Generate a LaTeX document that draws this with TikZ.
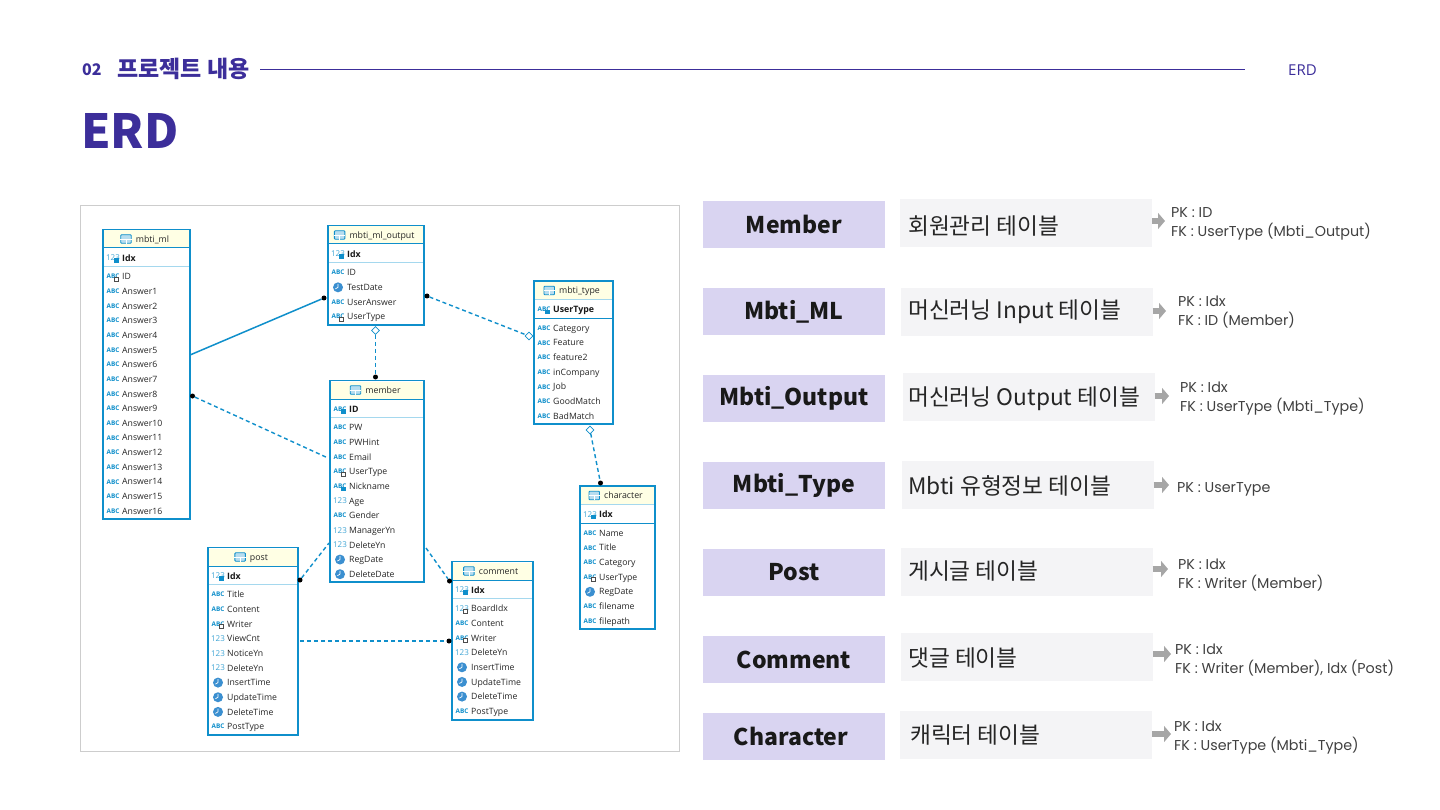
\documentclass[tikz,border=0pt]{standalone}
\usepackage{fontspec}
\setmainfont{Open Sans}
\newfontfamily\krfont{Noto Sans CJK KR}
\newfontfamily\keyfont{Poppins}
\usetikzlibrary{positioning,shapes.geometric,arrows.meta}
\definecolor{titlepurple}{HTML}{3C2E9A}
\definecolor{labelpurple}{HTML}{D9D4F1}
\definecolor{descgrey}{HTML}{F4F4F6}
\definecolor{erdblue}{HTML}{0F8FCB}
\definecolor{erdlight}{HTML}{A5D8EE}
\definecolor{erdyellow}{HTML}{FFFFE4}
\definecolor{panelgrey}{HTML}{CDCDCD}
\definecolor{clockblue}{HTML}{3B8FD0}
\tikzset{
  erdbox/.style={draw=erdblue,line width=1.7pt,fill=white,inner sep=0pt,outer sep=0pt,anchor=north west},
  erdtitle/.style={font=\fontsize{8.8}{10}\selectfont,text=black!85,inner sep=0pt,text height=6.2pt,text depth=0pt},
  erdkey/.style={font=\bfseries\fontsize{8.8}{10}\selectfont,text=black!90,inner sep=0pt,anchor=west,text height=6.2pt,text depth=0pt},
  erdcol/.style={font=\fontsize{8.7}{10}\selectfont,text=black!85,inner sep=0pt,anchor=west,text height=6.2pt,text depth=0pt},
  erdabc/.style={font=\bfseries\fontsize{6.4}{7}\selectfont,text=erdblue,inner sep=0pt},
  erdnum/.style={font=\fontsize{8}{9}\selectfont,text=erdblue!80,inner sep=0pt},
  erdclock/.style={circle,fill=clockblue,inner sep=0pt,minimum size=10pt},
  erdmark/.style={draw=black!70,fill=white,line width=.5pt,inner sep=0pt,minimum size=4pt},
  erdpk/.style={fill=erdblue,inner sep=0pt,minimum size=4.5pt},
  tableicon/.style={draw=erdblue,fill=erdblue!30,line width=.9pt,rounded corners=.8pt,inner sep=0pt,minimum width=10.5pt,minimum height=8.5pt},
  dot/.style={circle,fill=black,inner sep=0pt,minimum size=5pt},
  opt/.style={diamond,draw=erdblue,fill=white,line width=.6pt,inner sep=0pt,minimum size=8pt},
  solidrel/.style={draw=erdblue,line width=1.5pt},
  dashrel/.style={draw=erdblue,line width=1.4pt,dash pattern=on 4pt off 3pt},
  labelbox/.style={fill=labelpurple,minimum width=182pt,minimum height=47pt,inner sep=0pt,
    font=\krfont\bfseries\fontsize{23}{28}\selectfont,text=black!90},
  descbox/.style={fill=descgrey,minimum width=252pt,minimum height=48pt,inner sep=0pt},
  desctext/.style={font=\krfont\fontsize{22.7}{28}\selectfont,text=black!85,inner sep=0pt,anchor=west},
  keytext/.style={font=\keyfont\fontsize{14.3}{19}\selectfont,text=black!75,inner sep=0pt,anchor=west,align=left},
  keyarrow/.style={draw=black!35,line width=6pt,-{Triangle[length=7pt,width=16pt]}},
  headtext/.style={text=titlepurple,inner sep=0pt,anchor=west}
}
% icons: name, position
\newcommand\erdiconA[2]{\node[erdabc] (#1) at #2 {ABC};}
\newcommand\erdiconN[2]{\node[erdnum] (#1) at #2 {123};}
\newcommand\erdiconF[2]{\node[erdabc] (#1) at #2 {ABC};
  \node[erdmark] (#1m) at ([xshift=3.5pt,yshift=-2.5pt]#1.center) {};}
\newcommand\erdiconK[2]{\node[erdabc] (#1) at #2 {ABC};
  \node[erdpk] (#1m) at ([xshift=3.5pt,yshift=-2.5pt]#1.center) {};}
\newcommand\erdiconM[2]{\node[erdnum] (#1) at #2 {123};
  \node[erdmark] (#1m) at ([xshift=3.5pt,yshift=-2.5pt]#1.center) {};}
\newcommand\erdiconL[2]{\node[erdnum] (#1) at #2 {123};
  \node[erdpk] (#1m) at ([xshift=3.5pt,yshift=-2.5pt]#1.center) {};}
\newcommand\erdiconC[2]{\node[erdclock] (#1) at #2 {};
  \draw[white,line width=.7pt] (#1.center) -- ++(0,-3.4) (#1.center) -- ++(-2.6,1.5);}
% name, left, right, top, bottom, title, key, key icon, columns
\newcommand\erdtable[9]{
  \node[erdbox,minimum width=#3-#2,minimum height=#5-#4] (#1) at (#2,#4) {};
  \fill[erdyellow] (#2+1,#4+1) rectangle (#3-1,#4+18);
  \node[erdtitle] (#1t) at ({(#2+#3)/2+6},#4+9.5) {#6};
  \node[tableicon,left=4pt of #1t] (#1i) {};
  \draw[white,line width=.6pt] (#1i.west) -- (#1i.east) (#1i.center) -- (#1i.south);
  \draw[erdtopline] (#2+1,#4+18.5) -- (#3-1,#4+18.5);
  \draw[erdkeyline] (#2+1,#4+37) -- (#3-1,#4+37);
  \csname erdicon#8\endcsname{#1k}{(#2+10,#4+28.5)}
  \node[erdkey] (#1kt) at (#2+19,#4+28.5) {#7};
  \foreach \ic/\col [count=\k from 0] in {#9} {
    \csname erdicon\ic\endcsname{#1i\k}{(#2+10,#4+47.2+\k*14.65)}
    \node[erdcol] (#1c\k) at (#2+19,#4+47.2+\k*14.65) {\col};
  }
}
\begin{document}
\begin{tikzpicture}[x=1pt,y=-1pt]
  \useasboundingbox (0,0) rectangle (1440,810);
  % heading
  \node[headtext,font=\krfont\bfseries\fontsize{16}{18}\selectfont] (num) at (82,69.5) {02};
  \node[headtext,font=\krfont\bfseries\fontsize{23}{28}\selectfont] (section) at (117,68.5) {프로젝트 내용};
  \node[headtext,font=\fontsize{15}{18}\selectfont] (sub) at (1288,70) {ERD};
  \draw[titlepurple,line width=1.8pt] (260,69.5) -- (1245,69.5);
  \node[headtext,font=\krfont\bfseries\fontsize{47}{52}\selectfont] (erd) at (81,131) {ERD};
  % screenshot panel
  \node[draw=panelgrey,line width=1.4pt,fill=white,inner sep=0pt,outer sep=0pt,anchor=north west,minimum width=599pt,minimum height=546pt] (panel) at (80.5,205.5) {};
  % tables
  \tikzset{erdtopline/.style={draw=erdblue,line width=1pt},erdkeyline/.style={draw=erdlight,line width=1.5pt}}
  \erdtable{ml}{103}{190}{229.5}{519}{mbti\_ml}{Idx}{L}{F/ID,A/Answer1,A/Answer2,A/Answer3,A/Answer4,A/Answer5,A/Answer6,A/Answer7,A/Answer8,A/Answer9,A/Answer10,A/Answer11,A/Answer12,A/Answer13,A/Answer14,A/Answer15,A/Answer16}
  \erdtable{output}{328}{424}{225.5}{325}{mbti\_ml\_output}{Idx}{L}{A/ID,C/TestDate,A/UserAnswer,F/UserType}
  \erdtable{member}{330}{424}{380.5}{582}{member}{ID}{K}{A/PW,A/PWHint,A/Email,F/UserType,K/Nickname,N/Age,A/Gender,N/ManagerYn,N/DeleteYn,C/RegDate,C/DeleteDate}
  \erdtable{post}{208}{298}{547.5}{735}{post}{Idx}{L}{A/Title,A/Content,F/Writer,N/ViewCnt,N/NoticeYn,N/DeleteYn,C/InsertTime,C/UpdateTime,C/DeleteTime,A/PostType}
  \erdtable{comment}{452}{533}{561.5}{720}{comment}{Idx}{L}{M/BoardIdx,A/Content,F/Writer,N/DeleteYn,C/InsertTime,C/UpdateTime,C/DeleteTime,A/PostType}
  \tikzset{erdtopline/.style={draw=erdlight,line width=1.4pt},erdkeyline/.style={draw=erdblue,line width=1pt}}
  \erdtable{type}{534}{613}{281}{424}{mbti\_type}{UserType}{K}{A/Category,A/Feature,A/feature2,A/inCompany,A/Job,A/GoodMatch,A/BadMatch}
  \erdtable{character}{580}{655}{486}{629}{character}{Idx}{L}{A/Name,A/Title,A/Category,F/UserType,C/RegDate,A/filename,A/filepath}
  % relations
  \node[dot] (d1) at (324,298) {};
  \coordinate (f1) at (190,355);
  \draw[solidrel] (f1) -- (d1);
  \node[opt] (o2) at (375.5,330.5) {};
  \node[dot] (d2) at (375.5,377) {};
  \draw[dashrel] (o2) -- (d2);
  \node[dot] (d3) at (427,296) {};
  \node[opt] (o3) at (529,336) {};
  \draw[dashrel] (d3) -- (o3);
  \node[dot] (d4) at (192.5,396) {};
  \coordinate (f4) at (328,458);
  \draw[dashrel] (d4) -- (f4);
  \node[opt] (o5) at (590,430) {};
  \node[dot] (d5) at (600.5,483) {};
  \draw[dashrel] (o5) -- (d5);
  \node[dot] (d6) at (300,580) {};
  \coordinate (f6) at (329,543);
  \draw[dashrel] (d6) -- (f6);
  \node[dot] (d7) at (449.5,581) {};
  \coordinate (f7) at (426,548);
  \draw[dashrel] (f7) -- (d7);
  \coordinate (f8) at (300,641);
  \node[dot] (d8) at (449,641) {};
  \draw[dashrel] (f8) -- (d8);
  % right side rows
  \foreach \n/\lx/\ly/\gx/\gy/\ax/\ay/\tx/\ty/\kx/\ky/\lab/\desc/\key in {
    1/794/224.5/1026/223.5/1165/221/908/226.5/1171/223.5/Member/회원관리 테이블/{PK : ID\\FK : UserType (Mbti\_Output)},
    2/794/311.5/1026.5/312/1166/311/908/311.5/1178/312.5/Mbti\_ML/머신러닝 Input 테이블/{PK : Idx\\FK : ID (Member)},
    3/794/398.5/1028.5/397/1169/396/908/398.5/1180/398.5/Mbti\_Output/머신러닝 Output 테이블/{PK : Idx\\FK : UserType (Mbti\_Type)},
    4/794/485.5/1027.5/485/1169/485/908/485.5/1177/489/Mbti\_Type/Mbti 유형정보 테이블/{PK : UserType},
    5/794/572.5/1026.5/572/1168/569/908/571.5/1178/575/Post/게시글 테이블/{PK : Idx\\FK : Writer (Member)},
    6/794/659.5/1027/657/1171/654/908/658.5/1175/660/Comment/댓글 테이블/{PK : Idx\\FK : Writer (Member), Idx (Post)},
    7/794/736/1026/735/1171/734/910/735.5/1174/738/Character\kern6pt/캐릭터 테이블/{PK : Idx\\FK : UserType (Mbti\_Type)}} {
    \node[labelbox] (lab\n) at (\lx,\ly) {\lab};
    \node[descbox] (desc\n) at (\gx,\gy) {};
    \node[desctext] (dtxt\n) at (\tx,\ty) {\desc};
    \node[keytext] (key\n) at (\kx,\ky) {\key};
    \coordinate (tip\n) at (\ax,\ay);
    \draw[keyarrow] (desc\n.east |- tip\n) -- (tip\n);
  }
\end{tikzpicture}
\end{document}
